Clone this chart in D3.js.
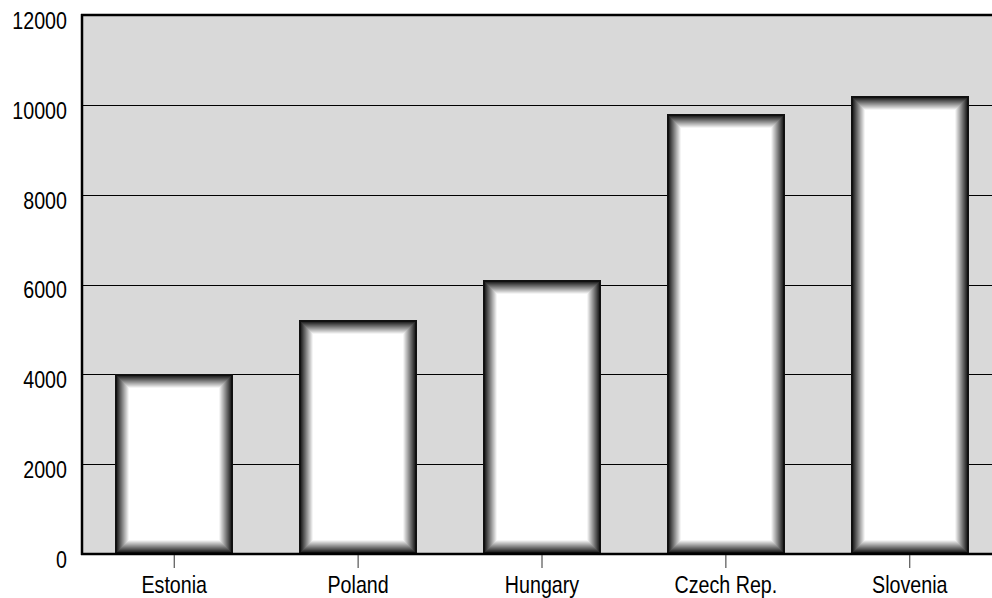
<!DOCTYPE html>
<html><head><meta charset="utf-8">
<script src="https://cdn.jsdelivr.net/npm/d3@7"></script>
<style>html,body{margin:0;padding:0;background:#fff;}svg{display:block;}</style>
</head><body>
<svg id="c" width="992" height="598"></svg>
<script>
const categories = ["Estonia", "Poland", "Hungary", "Czech Rep.", "Slovenia"];
const values = [4000, 5200, 6100, 9800, 10200];
const yTicks = [0, 2000, 4000, 6000, 8000, 10000, 12000];

(function(){
const svg = d3.select("#c");
const pLeft = 82, pRight = 1002, pTop = 15, pBottom = 554;
const font = "'Liberation Sans','Arimo',Arial,sans-serif";
const sx = 0.82;

const x = d3.scaleBand().domain(categories).range([pLeft, pRight]).paddingInner(0.357).paddingOuter(0.18);
const y = d3.scaleLinear().domain([0, 12000]).range([pBottom, pTop]);

svg.append("rect").attr("x", pLeft).attr("y", pTop).attr("width", pRight - pLeft + 20).attr("height", pBottom - pTop)
  .attr("fill", "#d9d9d9");

svg.append("g").selectAll("line").data(yTicks.filter(d => d > 0 && d < 12000)).join("line")
  .attr("x1", pLeft).attr("x2", 992).attr("y1", d => Math.round(y(d)) + 0.5).attr("y2", d => Math.round(y(d)) + 0.5)
  .attr("stroke", "#000").attr("stroke-width", 1);

const layers = d3.range(0, 15);
const shade = k => k < 2 ? "#111" : (k >= 14 ? "#fff" : d3.interpolateRgb("#2a2a2a", "#f4f4f4")((k - 2) / 11));
const bars = svg.append("g").selectAll("g").data(categories.map((c, i) => ({c, v: values[i]}))).join("g");
bars.each(function(d) {
  const g = d3.select(this);
  const x0 = Math.round(x(d.c)), w = Math.round(x.bandwidth());
  const y0 = Math.round(y(d.v)), h = pBottom - y0;
  layers.forEach(k => {
    g.append("rect").attr("x", x0 + k).attr("y", y0 + k)
      .attr("width", Math.max(0, w - 2 * k)).attr("height", Math.max(0, h - 2 * k))
      .attr("fill", shade(k));
  });
});

svg.append("line").attr("x1", pLeft - 1).attr("x2", 992).attr("y1", pTop).attr("y2", pTop).attr("stroke", "#000").attr("stroke-width", 2.5);
svg.append("line").attr("x1", pLeft).attr("x2", pLeft).attr("y1", pTop - 1).attr("y2", pBottom + 1).attr("stroke", "#000").attr("stroke-width", 2.5);
svg.append("line").attr("x1", pLeft - 1).attr("x2", 992).attr("y1", pBottom).attr("y2", pBottom).attr("stroke", "#000").attr("stroke-width", 2.5);

const yAxis = d3.axisLeft(y).tickValues(yTicks).tickSize(0).tickPadding(15).tickFormat(d3.format("d"));
const ya = svg.append("g").attr("transform", `translate(${pLeft},0)`).call(yAxis);
ya.select(".domain").remove();
ya.selectAll("text").attr("font-family", font).attr("font-size", 24).attr("fill", "#000")
  .attr("x", -15 / sx).attr("dy", "0.56em").attr("transform", `scale(${sx},1)`);

const xAxis = d3.axisBottom(x).tickSize(13).tickPadding(8);
const xa = svg.append("g").attr("transform", `translate(0,${pBottom + 1})`).call(xAxis);
xa.select(".domain").remove();
xa.selectAll("line").attr("stroke", "#333");
xa.selectAll("text").attr("font-family", font).attr("font-size", 24).attr("fill", "#000")
  .attr("transform", `scale(${sx},1)`);
})();
</script>
</body></html>
